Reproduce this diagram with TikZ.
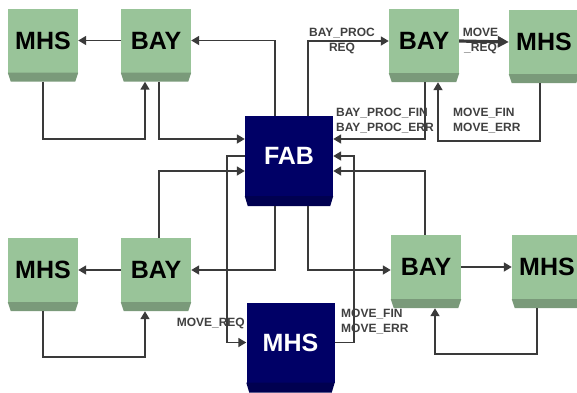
\documentclass[tikz,border=0pt]{standalone}
\usepackage{fontspec}
\setmainfont{Liberation Sans}
\usetikzlibrary{positioning,arrows.meta,calc}
\definecolor{cGreen}{RGB}{153,196,153}
\definecolor{cGreenD}{RGB}{122,154,122}
\definecolor{cNavy}{RGB}{0,0,102}
\definecolor{cNavyD}{RGB}{0,0,80}
\definecolor{cLine}{RGB}{58,58,58}
\definecolor{cLab}{RGB}{64,64,64}

\begin{document}
\begin{tikzpicture}[x=1pt,y=-1pt]
\tikzset{
 gbox/.style={fill=cGreen,minimum width=70pt,minimum height=64pt,inner sep=0,font=\fontsize{25}{25}\selectfont\bfseries},
 nbox/.style={fill=cNavy,minimum width=88pt,minimum height=80pt,inner sep=0,text=white,font=\fontsize{25}{25}\selectfont\bfseries},
 ar/.style={-{Triangle[length=8pt,width=9pt]},line width=1.7pt,draw=cLine},
 big/.style={-{Triangle[length=11pt,width=11pt]},line width=3.2pt,draw=cLine},
 lab/.style={text=cLab,inner sep=0,font=\fontsize{12}{15}\selectfont\bfseries}
}
\useasboundingbox (0,0) rectangle (577,392);
% boxes
\node[gbox] (m1) at (43,40.5) {MHS};
\node[gbox] (b1) at (156,40.5) {BAY};
\node[gbox] (b2) at (424,41) {BAY};
\node[gbox] (m2) at (544,42) {MHS};
\node[nbox] (fab) at (289,156) {FAB};
\node[gbox] (m3) at (43,270) {MHS};
\node[gbox] (b3) at (156,270) {BAY};
\node[gbox] (b4) at (426,267) {BAY};
\node[gbox] (m4) at (547,267) {MHS};
\node[nbox] (mb) at (290.5,342.5) {MHS};
% bevels
\foreach \n in {m1,b1,b2,m2,m3,b3,b4,m4}
 \fill[cGreenD] (\n.south west) -- ([xshift=3pt,yshift=-9pt]\n.south west) -- ([xshift=-3pt,yshift=-9pt]\n.south east) -- (\n.south east) -- cycle;
\foreach \n in {fab,mb}
 \fill[cNavyD] (\n.south west) -- ([xshift=3pt,yshift=-10pt]\n.south west) -- ([xshift=-3pt,yshift=-10pt]\n.south east) -- (\n.south east) -- cycle;

% top left
\draw[ar] (b1.west) -- (m1.east);
\draw[ar] ([yshift=-9pt]m1.south) -- ++(0,57) -| ([xshift=-11pt,yshift=-9pt]b1.south);
\draw[ar] ([xshift=3pt,yshift=-9pt]b1.south) |- ([yshift=17pt]fab.west);
\draw[ar] ([xshift=-14pt]fab.north) |- (b1.east);
% top right
\draw[ar] ([xshift=19pt]fab.north) |- (b2.west);
\node[lab,align=center] (l1) at (342,40.5) {BAY\_PROC\\REQ};
\draw[big] (b2.east) -- (m2.west);
\node[lab,align=center] (l2) at (480.5,40.5) {MOVE\\\_REQ};
\draw[ar] ([xshift=1pt,yshift=-9pt]b2.south) |- ([yshift=17pt]fab.east);
\node[lab,align=left,anchor=west] (l3) at (336,120.5) {BAY\_PROC\_FIN\\BAY\_PROC\_ERR};
\draw[ar] ([xshift=-4pt,yshift=-9pt]m2.south) -- ++(0,58) -| ([xshift=14pt,yshift=-9pt]b2.south);
\node[lab,align=left,anchor=west] (l4) at (453,120.5) {MOVE\_FIN\\MOVE\_ERR};
% fab <-> mhs
\draw[ar] (fab.west) -- ++(-18,0) |- (mb.west);
\node[lab,anchor=east] (l5) at (245,323) {MOVE\_REQ};
\draw[ar] (mb.east) -- ++(19,0) |- (fab.east);
\node[lab,align=left,anchor=west] (l6) at (341,322) {MOVE\_FIN\\MOVE\_ERR};
% bottom left
\draw[ar] ([xshift=3pt]b3.north) |- ([yshift=-15pt]fab.west);
\draw[ar] ([xshift=-14pt,yshift=-10pt]fab.south) |- (b3.east);
\draw[ar] (b3.west) -- (m3.east);
\draw[ar] ([yshift=-9pt]m3.south) -- ++(0,46) -| ([xshift=-11pt,yshift=-9pt]b3.south);
% bottom right
\draw[ar] ([xshift=-1pt]b4.north) |- ([yshift=-15pt]fab.east);
\draw[ar] ([xshift=19pt,yshift=-10pt]fab.south) |- ([yshift=-3pt]b4.west);
\draw[ar] (b4.east) -- (m4.west);
\draw[ar] ([xshift=-10pt,yshift=-9pt]m4.south) -- ++(0,46) -| ([xshift=9pt,yshift=-9pt]b4.south);
\end{tikzpicture}
\end{document}
